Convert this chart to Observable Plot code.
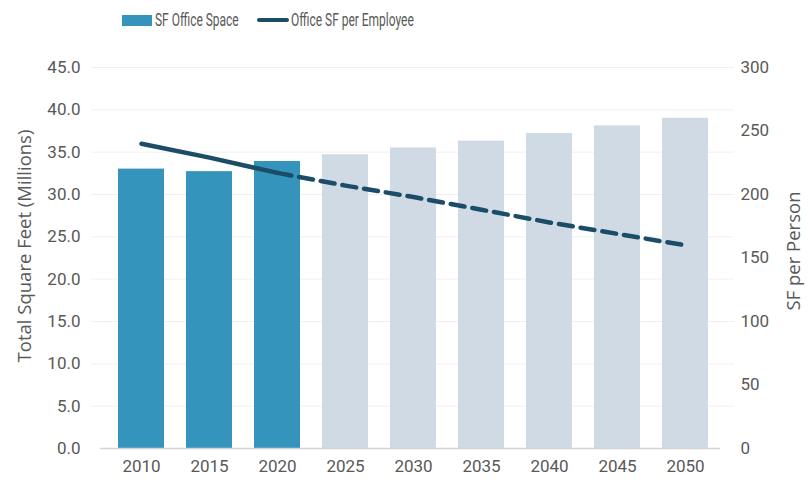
<!DOCTYPE html>
<html>
<head>
<meta charset="utf-8">
<script src="https://cdn.jsdelivr.net/npm/d3@7"></script>
<script src="https://cdn.jsdelivr.net/npm/@observablehq/plot@0.6"></script>
<style>
  html, body { margin: 0; padding: 0; background: #fff; }
  #wrap { width: 808px; height: 485px; position: relative; font-family: Roboto, "Open Sans", sans-serif; color: #595959; }
  #legend { position: relative; height: 40px; width: 808px; }
  .sw { position: absolute; }
  .lt { position: absolute; top: 8px; font-size: 19px; color: #595959; white-space: nowrap; transform: scaleX(0.63); transform-origin: 0 50%; }
  #chart svg { display: block; }
</style>
</head>
<body>
<div id="wrap">
  <div id="legend">
    <div class="sw" style="left:122px; top:15px; width:30px; height:11px; background:#3594bc;"></div>
    <div class="lt" style="left:155px;">SF Office Space</div>
    <div class="sw" style="left:257px; top:18px; width:32px; height:4px; border-radius:2px; background:#1b4d68;"></div>
    <div class="lt" style="left:291px;">Office SF per Employee</div>
  </div>
  <div id="chart"></div>
</div>
<script>
const years = ["2010", "2015", "2020", "2025", "2030", "2035", "2040", "2045", "2050"];
const officeSpace = [33.0, 32.7, 33.9, 34.7, 35.5, 36.3, 37.2, 38.1, 39.0];
const sfPerEmployee = [240, 229, 217, 207, 198, 188, 178, 169, 160];
const status = ["actual", "actual", "actual", "projected", "projected", "projected", "projected", "projected", "projected"];
const leftTicks = [0, 5, 10, 15, 20, 25, 30, 35, 40, 45];
const rightTicks = [0, 50, 100, 150, 200, 250, 300];

const k = 45 / 300;
const table = years.map((year, i) => ({year, space: officeSpace[i], sf: sfPerEmployee[i], status: status[i]}));
const solid = table.filter(d => d.status === "actual");
const dashed = table.filter((d, i) => d.status === "projected" || i === 2);

const chart = Plot.plot({
  width: 808,
  height: 445,
  marginLeft: 91,
  marginRight: 74,
  marginTop: 27,
  marginBottom: 37,
  style: {fontFamily: "Roboto, sans-serif", fontSize: "17px", color: "#595959", background: "#fff"},
  x: {type: "band", domain: years, padding: 0.33},
  y: {domain: [0, 45]},
  marks: [
    Plot.gridY(leftTicks.slice(1), {stroke: "#f0f0f0", strokeOpacity: 1}),
    Plot.barY(table, {x: "year", y: "space", fill: d => d.status === "actual" ? "#3594bc" : "#cfdae5"}),
    Plot.ruleY([0], {stroke: "#d4d4d4", strokeWidth: 1.5, insetLeft: 9, insetRight: 14}),
    Plot.line(solid, {x: "year", y: d => d.sf * k, stroke: "#1b4d68", strokeWidth: 4.5, strokeLinecap: "round"}),
    Plot.line(dashed, {x: "year", y: d => d.sf * k, stroke: "#1b4d68", strokeWidth: 4.5, strokeDasharray: "14,8"}),
    Plot.axisX({tickSize: 0, tickPadding: 11, label: null, fontSize: 17, fill: "#595959"}),
    Plot.axisY(leftTicks, {anchor: "left", tickSize: 0, tickPadding: 11, tickFormat: d3.format(".1f"), fontSize: 17, fill: "#595959",
      label: null}),
    Plot.axisY(rightTicks, {anchor: "right", y: d => d * k, tickFormat: d => String(d), tickSize: 0, tickPadding: 6, fontSize: 17, fill: "#595959",
      label: null}),
    Plot.text(["Total Square Feet (Millions)"], {frameAnchor: "left", textAnchor: "middle", dx: -66, dy: -12, rotate: -90, fontSize: 18.5, fontFamily: "'Open Sans', sans-serif", fill: "#595959"}),
    Plot.text(["SF per Person"], {frameAnchor: "right", textAnchor: "middle", dx: 60, dy: -7, rotate: -90, fontSize: 18.5, fontFamily: "'Open Sans', sans-serif", fill: "#595959"})
  ]
});
document.getElementById("chart").appendChild(chart);
</script>
</body>
</html>
